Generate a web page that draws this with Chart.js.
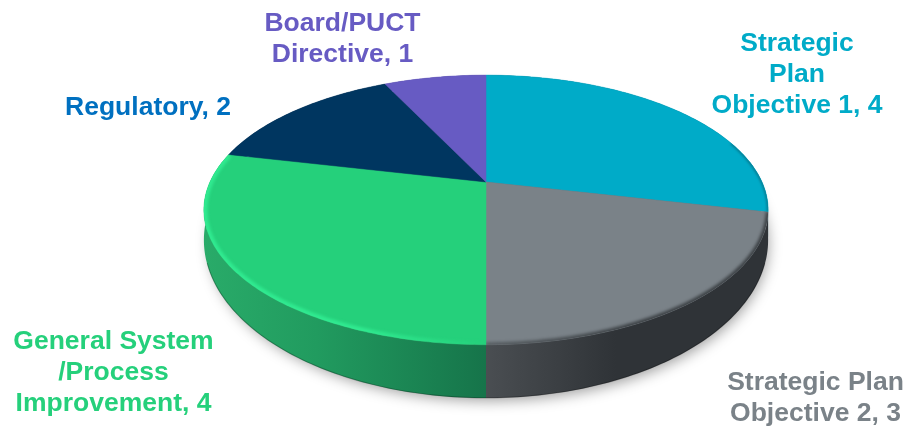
<!DOCTYPE html>
<html>
<head>
<meta charset="utf-8">
<title>Project drivers</title>
<script src="https://cdn.jsdelivr.net/npm/chart.js@4"></script>
<style>
  html, body { margin: 0; padding: 0; background: #fff; overflow: hidden; }
  #wrap { width: 908px; height: 427px; }
</style>
</head>
<body>
<div id="wrap"><canvas id="pieChart"></canvas></div>
<script>
// Chart data
const categoryLines = [
  ['Strategic', 'Plan', 'Objective 1'],
  ['Strategic Plan', 'Objective 2'],
  ['General System', '/Process', 'Improvement'],
  ['Regulatory'],
  ['Board/PUCT', 'Directive']
];
const values = [4, 3, 4, 2, 1];

// Colours
const faceColors = ['#00abc8', '#7a8288', '#25d07b', '#003660', '#675bc3'];
const textColors = ['#00abc8', '#7a8288', '#25d07b', '#0070c0', '#675bc3'];
const wallColors = [
  ['#0a5f6e', '#0a5f6e'],
  ['#4a4e52', '#2f3337'],
  ['#29ab69', '#16744a'],
  ['#00223c', '#00223c'],
  ['#3f3880', '#3f3880']
];

// Label anchors (centre x, first baseline y)
const labelAnchors = [[797, 50.5], [815.5, 390], [113.5, 349], [148, 115], [342.5, 31]];
const labelFont = 'bold 26.5px "Liberation Sans", Arial, sans-serif';
const labelLeading = 31.2;

// Perspective of the disc: unit circle -> screen
const top3d = { cx: 486, cy: 182, a: 276, b: 129, k: 0.207 };
const bottom3d = { cx: 486, cy: 207.3, a: 276, b: 151.3, k: 0.207 };

function project(p, angle, r) {
  const u = Math.cos(angle) * r;
  const v = Math.sin(angle) * r;
  const w = 1 - p.k * v;
  return [p.cx + p.a * u / w, p.cy + p.b * v / w];
}

// Add a rim section to the current path
function traceRim(ctx, p, from, to, r) {
  const steps = Math.max(2, Math.ceil(Math.abs(to - from) * 60));
  for (let i = 0; i <= steps; i++) {
    const pt = project(p, from + (to - from) * i / steps, r);
    ctx.lineTo(pt[0], pt[1]);
  }
}

function sliceFace(ctx, arc) {
  ctx.beginPath();
  ctx.moveTo(top3d.cx, top3d.cy);
  traceRim(ctx, top3d, arc.startAngle, arc.endAngle, 1);
  ctx.closePath();
}

// Bevel of each lit slice: stroke along the rim, clipped to the slice
function drawBevel(ctx, arc, from, to, style, width, blur) {
  ctx.save();
  sliceFace(ctx, arc);
  ctx.clip();
  ctx.filter = 'blur(' + blur + 'px)';
  ctx.strokeStyle = style;
  ctx.lineWidth = width;
  ctx.beginPath();
  traceRim(ctx, top3d, from, to, 1);
  ctx.stroke();
  ctx.restore();
}

function xGradient(ctx, x0, x1, stops) {
  const g = ctx.createLinearGradient(x0, 0, x1, 0);
  stops.forEach(s => g.addColorStop(s[0], s[1]));
  return g;
}

// Draws the arcs Chart.js laid out, as a tilted 3D disc
const disc3d = {
  id: 'disc3d',
  beforeDatasetsDraw(chart) {
    const ctx = chart.ctx;
    const arcs = chart.getDatasetMeta(0).data;

    // soft shadow under the disc
    ctx.save();
    ctx.shadowColor = 'rgba(0,0,0,0.38)';
    ctx.shadowBlur = 14;
    ctx.shadowOffsetX = 3;
    ctx.shadowOffsetY = 5;
    ctx.fillStyle = '#555';
    ctx.beginPath();
    traceRim(ctx, bottom3d, 0, Math.PI * 2, 0.99);
    ctx.closePath();
    ctx.fill();
    ctx.restore();

    // side wall
    arcs.forEach((arc, i) => {
      if (i === 1) {
        ctx.fillStyle = xGradient(ctx, top3d.cx, top3d.cx + 130, [[0, wallColors[i][0]], [1, wallColors[i][1]]]);
      } else if (i === 2) {
        ctx.fillStyle = xGradient(ctx, top3d.cx - 282, top3d.cx, [[0, wallColors[i][0]], [0.4, '#219b5f'], [1, wallColors[i][1]]]);
      } else {
        ctx.fillStyle = wallColors[i][0];
      }
      ctx.beginPath();
      traceRim(ctx, top3d, arc.startAngle, arc.endAngle, 1);
      traceRim(ctx, bottom3d, arc.endAngle, arc.startAngle, 1);
      ctx.closePath();
      ctx.fill();
    });

    // dark lip along the bottom of the wall
    ctx.strokeStyle = 'rgba(0,0,0,0.25)';
    ctx.lineWidth = 1.2;
    ctx.beginPath();
    traceRim(ctx, bottom3d, 0.35, Math.PI - 0.35, 0.999);
    ctx.stroke();

    // top face
    arcs.forEach((arc, i) => {
      ctx.fillStyle = faceColors[i];
      sliceFace(ctx, arc);
      ctx.fill();
      // hairline to close the gaps between slices
      ctx.strokeStyle = faceColors[i];
      ctx.lineWidth = 0.5;
      ctx.stroke();
    });

    // bevels: dark on the right, bright on the lower left
    drawBevel(ctx, arcs[0], arcs[0].endAngle - 0.55, arcs[0].endAngle, '#067e94', 3, 0.8);
    drawBevel(ctx, arcs[1], arcs[1].startAngle, arcs[1].endAngle,
      xGradient(ctx, top3d.cx, top3d.cx + 282, [[0, 'rgba(61,66,70,0.55)'], [0.5, '#3d4246'], [1, '#3d4246']]), 5, 1.8);
    drawBevel(ctx, arcs[2], arcs[2].startAngle, arcs[2].endAngle,
      xGradient(ctx, top3d.cx - 282, top3d.cx, [[0, '#30ea90'], [0.55, '#30ea90'], [0.85, 'rgba(48,234,144,0.35)'], [1, 'rgba(48,234,144,0)']]), 7, 1.8);

    // labels
    ctx.save();
    ctx.font = labelFont;
    ctx.textAlign = 'center';
    ctx.textBaseline = 'alphabetic';
    categoryLines.forEach((lines, i) => {
      ctx.fillStyle = textColors[i];
      lines.forEach((line, j) => {
        const text = j === lines.length - 1 ? line + ', ' + values[i] : line;
        ctx.fillText(text, labelAnchors[i][0], labelAnchors[i][1] + j * labelLeading);
      });
    });
    ctx.restore();

    return false;
  }
};

new Chart(document.getElementById('pieChart'), {
  type: 'pie',
  data: {
    labels: categoryLines.map(l => l.join(' ')),
    datasets: [{ data: values, backgroundColor: faceColors, borderWidth: 0 }]
  },
  options: {
    responsive: true,
    maintainAspectRatio: false,
    animation: false,
    events: [],
    plugins: { legend: { display: false }, tooltip: { enabled: false } }
  },
  plugins: [disc3d]
});
</script>
</body>
</html>
